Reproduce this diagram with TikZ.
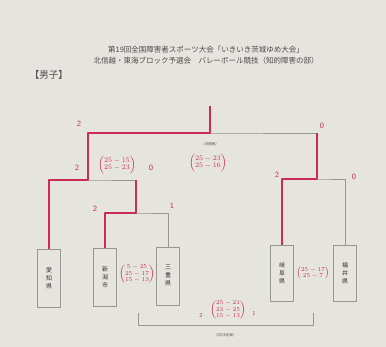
\documentclass[tikz,border=0pt]{standalone}
\usepackage{fontspec}
\newfontfamily\jpfont{Noto Sans CJK JP}
\usetikzlibrary{positioning,calc}
\definecolor{paper}{RGB}{230,228,222}
\definecolor{pen}{RGB}{204,44,82}
\definecolor{rule}{RGB}{150,150,146}
\tikzset{
	team/.style = {draw=rule, line width=0.6pt, minimum width=23pt,
		minimum height=58pt, inner sep=0pt, align=center, text=black!80,
		font=\jpfont\fontsize{6}{8}\selectfont},
	bracket/.style = {draw=rule, line width=0.6pt},
	win/.style = {draw=pen, line width=2.6pt, line join=round},
	score/.style = {text=pen, inner sep=0pt, font=\fontsize{7}{7}\selectfont},
	tally/.style = {text=pen, inner sep=0pt, font=\sffamily\fontsize{8}{8}\selectfont},
	tag/.style = {text=black!65, inner sep=0pt, font=\jpfont\fontsize{3.5}{4}\selectfont},
	head/.style = {text=black!70, inner sep=0pt, font=\jpfont\fontsize{7.5}{11}\selectfont, align=center},
}
\begin{document}
\begin{tikzpicture}[x=1pt,y=-1pt]
	\fill[paper] (0,0) rectangle (386,347);
	\useasboundingbox (0,0) rectangle (386,347);
	% heading
	\node at(206,55) (title) [head] {第19回全国障害者スポーツ大会「いきいき茨城ゆめ大会」\\
		北信越・東海ブロック予選会\quad バレーボール競技（知的障害の部）};
	\node at(49,75) (men) [head, font=\jpfont\fontsize{9.5}{9.5}\selectfont] {【男子】};
	% teams
	\node at(49,278) (Aichi) [team] {愛\\知\\県};
	\node at(105,277) (Niigata) [team] {新\\潟\\市};
	\node at(168,276) (Mie) [team] {三\\重\\県};
	\node at(282,273) (Gifu) [team, minimum height=56pt] {岐\\阜\\県};
	\node at(345,273) (Fukui) [team, minimum height=56pt] {福\\井\\県};
	% junctions
	\coordinate (m1) at (136,213);
	\coordinate (m2) at (88,180);
	\coordinate (m3) at (317,179);
	\coordinate (fin) at (210,133);
	\coordinate (top) at (210,106);
	\coordinate (b1) at (138,313);
	\coordinate (b2) at (313,313);
	% bracket
	\draw[bracket] (Niigata.north) |- (m1) -| (Mie.north);
	\draw[bracket] (m1) -- (m1 |- m2);
	\draw[bracket] (Aichi.north) |- (m2) -- (m1 |- m2);
	\draw[bracket] (m2) |- (fin) -| (m3);
	\draw[bracket] (Gifu.north) |- (m3) -| (Fukui.north);
	\draw[bracket] (b1) |- ($(b1)+(0,12)$) -| (b2);
	% winners
	\draw[win] (Aichi.north) |- (m2) |- (fin) -- (top);
	\draw[win] (Niigata.north) |- (m1) -- (m1 |- m2);
	\draw[win] (Gifu.north) |- (m3) -- (m3 |- fin);
	% labels
	\node at(210,144) (finTag) [tag] {（決勝戦）};
	\node at(225,335) (thirdTag) [tag] {（3位決定戦）};
	% results
	\node at(79,124) (t1) [tally] {2};
	\node at(322,126) (t2) [tally] {0};
	\node at(77,168) (t3) [tally] {2};
	\node at(151,168) (t4) [tally] {0};
	\node at(95,209) (t5) [tally] {2};
	\node at(172,206) (t6) [tally] {1};
	\node at(277,175) (t7) [tally] {2};
	\node at(354,177) (t8) [tally] {0};
	\node at(201,315) (t9) [tally, font=\sffamily\fontsize{6}{6}\selectfont] {2};
	\node at(254,313) (t10) [tally, font=\sffamily\fontsize{6}{6}\selectfont] {1};
	\node at(117,165) (s1) [score] {$\left(\begin{array}{@{}c@{}}25-15\\25-23\end{array}\right)$};
	\node at(208,163) (s2) [score] {$\left(\begin{array}{@{}c@{}}25-23\\25-16\end{array}\right)$};
	\node at(137,274) (s3) [score, font=\fontsize{6.5}{6.5}\selectfont] {$\left(\begin{array}{@{}c@{}}5-25\\25-17\\15-13\end{array}\right)$};
	\node at(313,273) (s4) [score, font=\fontsize{6}{6}\selectfont] {$\left(\begin{array}{@{}c@{}}25-17\\25-7\end{array}\right)$};
	\node at(228,310) (s5) [score, font=\fontsize{6.5}{6.5}\selectfont] {$\left(\begin{array}{@{}c@{}}25-21\\23-25\\15-13\end{array}\right)$};
\end{tikzpicture}
\end{document}
